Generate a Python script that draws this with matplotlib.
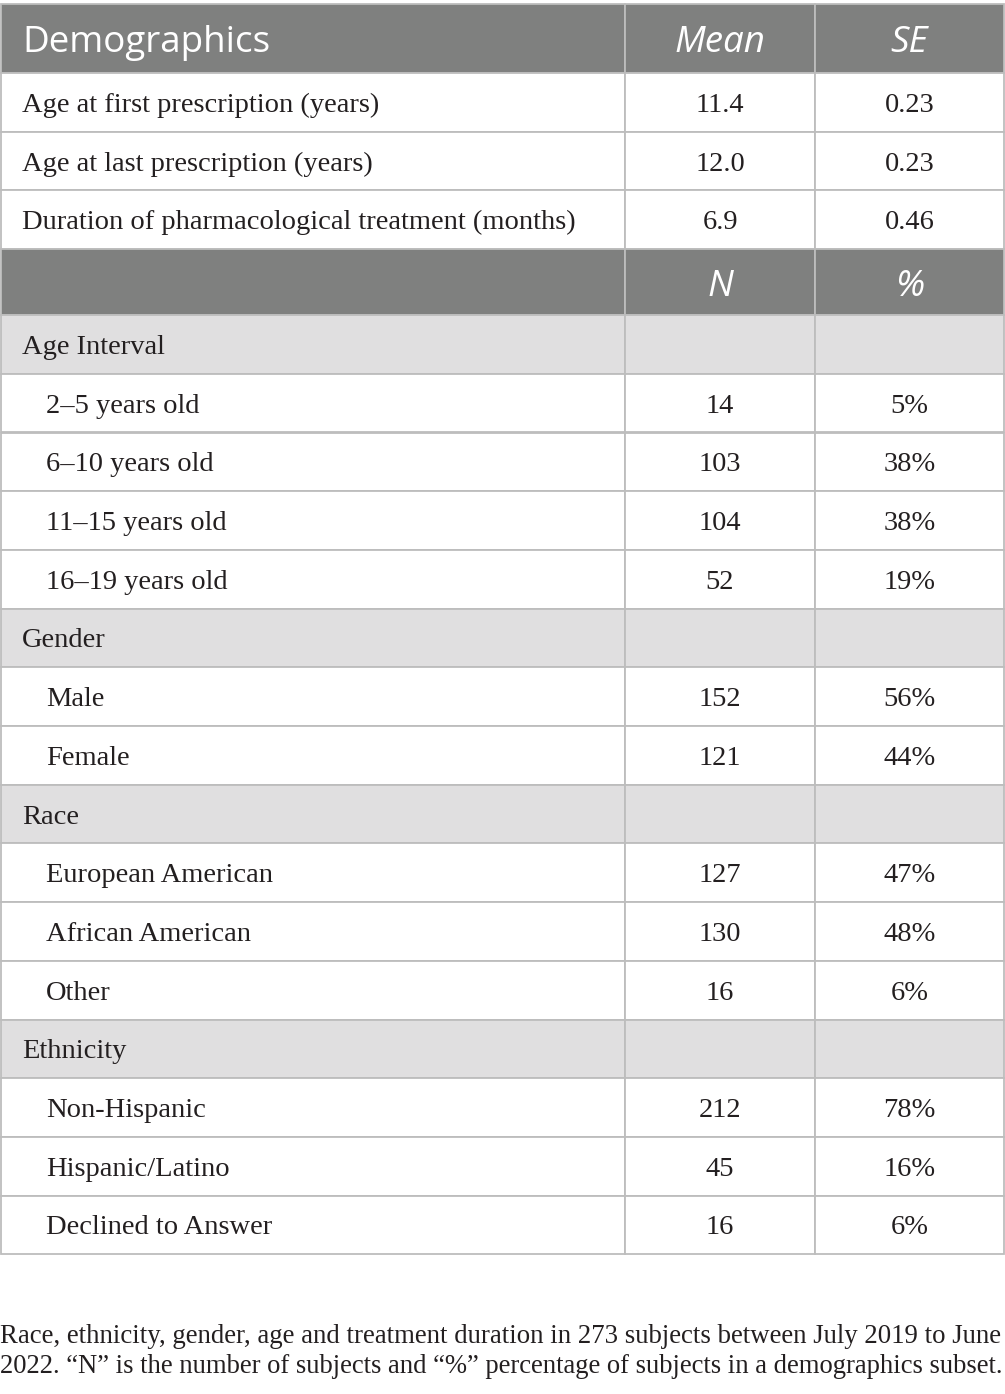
import matplotlib.pyplot as plt
from matplotlib.patches import Rectangle

labels = ['Age at first prescription (years)', 'Age at last prescription (years)',
          'Duration of pharmacological treatment (months)',
          'Age Interval', '2\u20135 years old', '6\u201310 years old', '11\u201315 years old', '16\u201319 years old',
          'Gender', 'Male', 'Female',
          'Race', 'European American', 'African American', 'Other',
          'Ethnicity', 'Non-Hispanic', 'Hispanic/Latino', 'Declined to Answer']
col_n = ['11.4', '12.0', '6.9', '', '14', '103', '104', '52', '', '152', '121',
         '', '127', '130', '16', '', '212', '45', '16']
col_pct = ['0.23', '0.23', '0.46', '', '5%', '38%', '38%', '19%', '', '56%', '44%',
           '', '47%', '48%', '6%', '', '78%', '16%', '6%']
# 'm' = plain row, 's' = section row, 'i' = indented row
kinds = ['m', 'm', 'm', 's', 'i', 'i', 'i', 'i', 's', 'i', 'i', 's', 'i', 'i', 'i', 's', 'i', 'i', 'i']
head1 = ['Demographics', 'Mean', 'SE']
head2 = ['', 'N', '%']
caption = ['Race, ethnicity, gender, age and treatment duration in 273 subjects between July 2019 to June',
           '2022. \u201cN\u201d is the number of subjects and \u201c%\u201d percentage of subjects in a demographics subset.']

W, H = 1005, 1394
fig = plt.figure(figsize=(W / 100, H / 100), dpi=100)
ax = fig.add_axes([0, 0, 1, 1])
ax.set_xlim(0, W)
ax.set_ylim(H, 0)
ax.axis('off')

cols = [1, 625, 815, 1004]
dark = '#7f807f'
light = '#e0dfe0'
line = '#bdbdbd'
ink = '#231f20'
serif = 'Liberation Serif'
sans = 'Open Sans'
fs = 20.5
hfs = 26.5

def cell_row(y0, y1, fc):
    for j in range(3):
        ax.add_patch(Rectangle((cols[j], y0), cols[j + 1] - cols[j], y1 - y0,
                               facecolor=fc, edgecolor=line, lw=1.3))

def header(y0, y1, texts):
    cell_row(y0, y1, dark)
    yb = (y0 + y1) / 2 + 13.5
    if texts[0]:
        ax.text(22, yb, texts[0], ha='left', va='baseline', family=sans, fontsize=hfs, color='white')
    for j in (1, 2):
        ax.text((cols[j] + cols[j + 1]) / 2, yb, texts[j], ha='center', va='baseline',
                family=sans, fontsize=hfs, style='italic', color='white')

rh = 58.7
header(4, 73, head1)
y = 73
for i in range(len(labels)):
    if i == 3:
        header(y, y + 66, head2)
        y += 66
    fc = light if kinds[i] == 's' else 'white'
    cell_row(y, y + rh, fc)
    yb = y + rh / 2 + 9.5
    x = 46 if kinds[i] == 'i' else 22
    ax.text(x, yb, labels[i], ha='left', va='baseline', family=serif, fontsize=fs, color=ink)
    ax.text((cols[1] + cols[2]) / 2, yb, col_n[i], ha='center', va='baseline', family=serif, fontsize=fs, color=ink)
    ax.text((cols[2] + cols[3]) / 2, yb, col_pct[i], ha='center', va='baseline', family=serif, fontsize=fs, color=ink)
    y += rh

# caption, shrunk so each line spans the width like the original
r = fig.canvas.get_renderer()
cap_fs = 17
for k, (line_txt, yb) in enumerate(zip(caption, [1343, 1373])):
    t = ax.text(0, yb, line_txt, ha='left', va='baseline', family=serif, fontsize=cap_fs, color=ink)
    w = t.get_window_extent(renderer=r).width
    target = 1000 if k == 0 else 1003
    t.set_fontsize(cap_fs * target / w)

fig.savefig('out.png', dpi=100)
